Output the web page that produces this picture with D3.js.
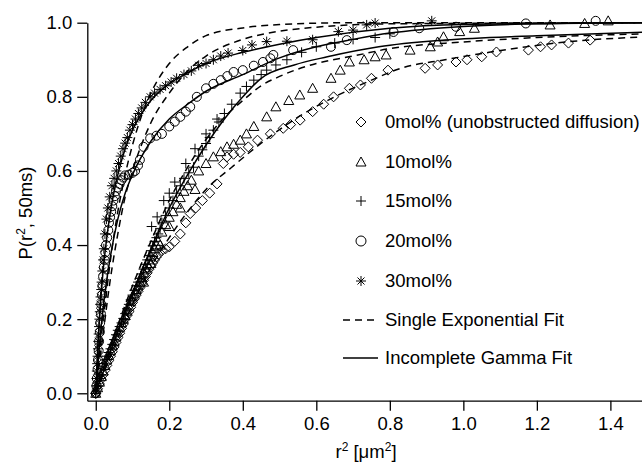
<!DOCTYPE html>
<html>
<head>
<meta charset="utf-8">
<script src="https://cdn.jsdelivr.net/npm/d3@7"></script>
<style>
  body { margin: 0; background: #fff; }
  text { font-family: "Liberation Sans", Arial, sans-serif; fill: #000; }
  .axis path, .axis line { stroke: #000; stroke-width: 1.3px; }
  .axis text { font-size: 18.5px; }
</style>
</head>
<body>
<svg id="chart" width="642" height="466"></svg>
<script>
// data: [r2 (um^2), P(r2, 50ms)]
var mol0 = [[0,0],[0.005,0.012],[0.01,0.025],[0.015,0.038],[0.02,0.05],[0.025,0.062],[0.03,0.075],[0.035,0.088],[0.04,0.1],[0.045,0.112],[0.05,0.125],[0.055,0.137],[0.06,0.15],[0.065,0.162],[0.07,0.175],[0.075,0.187],[0.08,0.2],[0.085,0.21],[0.09,0.22],[0.095,0.232],[0.1,0.245],[0.105,0.255],[0.11,0.265],[0.115,0.275],[0.12,0.285],[0.125,0.295],[0.13,0.305],[0.135,0.315],[0.14,0.325],[0.145,0.335],[0.15,0.345],[0.155,0.352],[0.16,0.36],[0.165,0.368],[0.17,0.375],[0.18,0.385],[0.19,0.39],[0.2,0.395],[0.215,0.41],[0.23,0.43],[0.245,0.46],[0.257,0.485],[0.272,0.5],[0.29,0.52],[0.31,0.54],[0.33,0.565],[0.347,0.62],[0.357,0.638],[0.375,0.645],[0.393,0.65],[0.415,0.665],[0.44,0.683],[0.475,0.7],[0.51,0.715],[0.53,0.725],[0.556,0.737],[0.59,0.76],[0.62,0.78],[0.647,0.8],[0.69,0.823],[0.72,0.832],[0.75,0.85],[0.795,0.872],[0.896,0.877],[0.93,0.886],[0.98,0.894],[1.01,0.9],[1.05,0.908],[1.09,0.921],[1.177,0.926],[1.21,0.935],[1.24,0.94],[1.286,0.945],[1.345,0.953]];
var mol10 = [[0,0],[0.005,0.015],[0.01,0.03],[0.015,0.045],[0.02,0.06],[0.025,0.075],[0.03,0.09],[0.035,0.102],[0.04,0.115],[0.045,0.128],[0.05,0.14],[0.055,0.152],[0.06,0.165],[0.065,0.178],[0.07,0.19],[0.075,0.2],[0.08,0.21],[0.085,0.222],[0.09,0.235],[0.095,0.248],[0.1,0.26],[0.105,0.27],[0.11,0.28],[0.115,0.29],[0.12,0.3],[0.125,0.312],[0.13,0.325],[0.135,0.338],[0.14,0.35],[0.145,0.36],[0.15,0.37],[0.155,0.38],[0.16,0.39],[0.165,0.4],[0.17,0.41],[0.18,0.435],[0.19,0.455],[0.2,0.475],[0.21,0.49],[0.22,0.51],[0.23,0.528],[0.24,0.545],[0.25,0.56],[0.26,0.575],[0.28,0.6],[0.3,0.62],[0.32,0.638],[0.34,0.652],[0.357,0.665],[0.375,0.672],[0.393,0.683],[0.41,0.7],[0.43,0.72],[0.465,0.746],[0.49,0.773],[0.525,0.79],[0.555,0.805],[0.59,0.823],[0.64,0.85],[0.665,0.872],[0.69,0.894],[0.73,0.9],[0.76,0.908],[0.79,0.913],[0.855,0.926],[0.91,0.935],[0.93,0.948],[0.946,0.962],[0.99,0.976],[1.03,0.985],[1.236,0.994],[1.33,0.998],[1.394,1.005],
  [0.13,0.3],[0.15,0.35],[0.175,0.4],[0.2,0.45],[0.23,0.5],[0.27,0.55]];
var mol15 = [[0,0],[0.005,0.02],[0.01,0.04],[0.015,0.05],[0.02,0.08],[0.025,0.09],[0.03,0.1],[0.035,0.11],[0.04,0.12],[0.045,0.132],[0.05,0.145],[0.055,0.158],[0.06,0.17],[0.065,0.18],[0.07,0.19],[0.075,0.202],[0.08,0.215],[0.085,0.228],[0.09,0.24],[0.095,0.252],[0.1,0.265],[0.105,0.278],[0.11,0.29],[0.115,0.3],[0.12,0.31],[0.125,0.322],[0.13,0.335],[0.135,0.348],[0.14,0.36],[0.145,0.372],[0.15,0.385],[0.155,0.398],[0.16,0.41],[0.165,0.42],[0.17,0.43],[0.175,0.445],[0.18,0.46],[0.19,0.48],[0.2,0.5],[0.21,0.52],[0.22,0.54],[0.23,0.56],[0.24,0.58],[0.253,0.595],[0.266,0.61],[0.28,0.64],[0.29,0.657],[0.3,0.674],[0.31,0.69],[0.32,0.71],[0.335,0.732],[0.35,0.755],[0.37,0.78],[0.393,0.81],[0.41,0.828],[0.43,0.845],[0.45,0.86],[0.465,0.872],[0.49,0.886],[0.52,0.9],[0.56,0.92],[0.6,0.935],[0.65,0.945],[0.7,0.955],[0.76,0.96],[0.8,0.97],
  [0.152,0.45],[0.167,0.476],[0.185,0.52],[0.2,0.54],[0.215,0.57],[0.245,0.62],[0.27,0.66],[0.3,0.7],[0.33,0.74]];
var mol20 = [[0,0],[0.002,0.02],[0.003,0.04],[0.005,0.065],[0.006,0.09],[0.008,0.115],[0.009,0.14],[0.011,0.165],[0.012,0.19],[0.014,0.215],[0.015,0.24],[0.017,0.265],[0.018,0.29],[0.02,0.315],[0.022,0.34],[0.024,0.36],[0.026,0.38],[0.028,0.4],[0.031,0.42],[0.034,0.44],[0.036,0.46],[0.039,0.475],[0.042,0.49],[0.045,0.505],[0.048,0.52],[0.052,0.532],[0.055,0.545],[0.06,0.555],[0.065,0.565],[0.07,0.575],[0.075,0.582],[0.08,0.588],[0.09,0.59],[0.1,0.595],[0.107,0.6],[0.115,0.615],[0.12,0.63],[0.13,0.665],[0.148,0.688],[0.165,0.695],[0.18,0.7],[0.2,0.72],[0.215,0.733],[0.23,0.746],[0.245,0.76],[0.257,0.773],[0.275,0.8],[0.3,0.823],[0.32,0.835],[0.34,0.845],[0.358,0.856],[0.375,0.867],[0.4,0.872],[0.43,0.884],[0.455,0.894],[0.475,0.904],[0.483,0.913],[0.537,0.926],[0.64,0.935],[0.683,0.953],[0.81,0.975],[0.88,0.985],[0.98,0.989],[1.17,0.998],[1.36,1.005]];
var mol30 = [[0,0],[0.001,0.02],[0.002,0.04],[0.003,0.06],[0.004,0.08],[0.005,0.1],[0.006,0.12],[0.007,0.14],[0.008,0.16],[0.009,0.18],[0.01,0.2],[0.011,0.22],[0.012,0.24],[0.013,0.26],[0.015,0.28],[0.016,0.3],[0.018,0.33],[0.02,0.36],[0.022,0.39],[0.025,0.43],[0.029,0.47],[0.033,0.5],[0.038,0.53],[0.044,0.56],[0.05,0.58],[0.056,0.6],[0.062,0.62],[0.068,0.64],[0.074,0.66],[0.08,0.675],[0.086,0.69],[0.093,0.71],[0.1,0.725],[0.108,0.74],[0.116,0.755],[0.125,0.77],[0.135,0.785],[0.148,0.8],[0.16,0.81],[0.175,0.82],[0.19,0.83],[0.205,0.84],[0.22,0.85],[0.24,0.86],[0.26,0.87],[0.28,0.885],[0.3,0.89],[0.32,0.9],[0.34,0.91],[0.36,0.918],[0.4,0.925],[0.425,0.94],[0.465,0.949],[0.52,0.95],[0.59,0.954],[0.66,0.976],[0.7,0.98],[0.737,0.994],[0.76,0.999],[0.914,1.005]];

// fitted curves
var expFit30 = [[0,0],[0.01,0.105],[0.02,0.2],[0.03,0.28],[0.04,0.36],[0.06,0.49],[0.08,0.59],[0.1,0.67],[0.125,0.75],[0.15,0.81],[0.2,0.89],[0.25,0.935],[0.3,0.965],[0.4,0.986],[0.5,0.995],[0.7,1.0],[1.5,1.0]];
var expFit20 = [[0,0],[0.02,0.16],[0.04,0.31],[0.06,0.43],[0.08,0.53],[0.1,0.6],[0.15,0.73],[0.2,0.81],[0.25,0.87],[0.3,0.91],[0.4,0.955],[0.5,0.977],[0.6,0.988],[0.8,0.997],[1.5,1.0]];
var expFit10 = [[0,0],[0.05,0.155],[0.1,0.29],[0.15,0.41],[0.2,0.52],[0.25,0.61],[0.3,0.685],[0.35,0.745],[0.4,0.79],[0.45,0.83],[0.5,0.855],[0.6,0.89],[0.7,0.91],[0.8,0.93],[1.0,0.948],[1.2,0.96],[1.5,0.97]];
var expFit0 = [[0,0],[0.05,0.125],[0.1,0.24],[0.15,0.34],[0.2,0.42],[0.25,0.49],[0.3,0.55],[0.37,0.61],[0.45,0.675],[0.55,0.745],[0.65,0.8],[0.75,0.845],[0.83,0.877],[0.95,0.9],[1.07,0.92],[1.3,0.95],[1.5,0.962]];
var gammaFit30 = [[0,0],[0.005,0.12],[0.01,0.2],[0.02,0.33],[0.03,0.42],[0.04,0.49],[0.06,0.59],[0.08,0.66],[0.1,0.71],[0.125,0.755],[0.15,0.79],[0.2,0.835],[0.25,0.865],[0.3,0.89],[0.4,0.92],[0.5,0.942],[0.6,0.96],[0.8,0.985],[1.0,0.995],[1.5,1.0]];
var gammaFit20 = [[0,0],[0.01,0.13],[0.02,0.23],[0.04,0.37],[0.06,0.47],[0.08,0.54],[0.1,0.59],[0.15,0.68],[0.2,0.74],[0.25,0.78],[0.3,0.815],[0.4,0.86],[0.5,0.905],[0.6,0.935],[0.7,0.955],[0.8,0.972],[1.0,0.99],[1.2,0.997],[1.5,1.0]];
var gammaFit15 = [[0,0],[0.05,0.14],[0.1,0.27],[0.15,0.39],[0.2,0.5],[0.25,0.59],[0.3,0.67],[0.35,0.74],[0.4,0.8],[0.45,0.85],[0.54,0.886],[0.63,0.908],[0.77,0.935],[0.95,0.953],[1.2,0.965],[1.5,0.975]];

var xTicks = [0, 0.2, 0.4, 0.6, 0.8, 1.0, 1.2, 1.4];
var yTicks = [0, 0.2, 0.4, 0.6, 0.8, 1.0];
var legendNames = ["0mol% (unobstructed diffusion)", "10mol%", "15mol%", "20mol%", "30mol%"];
var fitNames = ["Single Exponential Fit", "Incomplete Gamma Fit"];

var svg = d3.select("#chart");

// scales (plot runs off the right edge like the original)
var x = d3.scaleLinear().domain([-0.023, 1.486]).range([87.3, 642]);
var y = d3.scaleLinear().domain([-0.02, 1.0]).range([400.7, 22.7]);

// axes
svg.append("g")
    .attr("class", "axis")
    .attr("transform", "translate(0,400.7)")
    .call(d3.axisBottom(x).tickValues(xTicks).tickFormat(d3.format(".1f"))
        .tickSize(10).tickSizeOuter(0).tickPadding(6));
svg.append("g")
    .attr("class", "axis")
    .attr("transform", "translate(87.3,0)")
    .call(d3.axisLeft(y).tickValues(yTicks).tickFormat(d3.format(".1f"))
        .tickSize(10).tickSizeOuter(0).tickPadding(5));

// axis titles
var xt = svg.append("text")
    .attr("x", 366).attr("y", 458)
    .attr("text-anchor", "middle")
    .style("font-size", "18.5px");
xt.append("tspan").text("r");
xt.append("tspan").attr("dy", -7).style("font-size", "12px").text("2");
xt.append("tspan").attr("dy", 7).text(" [\u03bcm");
xt.append("tspan").attr("dy", -7).style("font-size", "12px").text("2");
xt.append("tspan").attr("dy", 7).text("]");

var yt = svg.append("text")
    .attr("transform", "translate(32,213) rotate(-90)")
    .attr("text-anchor", "middle")
    .style("font-size", "18.5px");
yt.append("tspan").text("P(r");
yt.append("tspan").attr("dy", -7).style("font-size", "12px").text("2");
yt.append("tspan").attr("dy", 7).text(", 50ms)");

// marker shapes
var shapes = {
  diamond: "M0,-5L5,0L0,5L-5,0Z",
  triangle: "M0,-5L5,4L-5,4Z",
  plus: "M-5,0H5M0,-5V5",
  star: "M-5,0H5M0,-5V5M-3.5,-3.5L3.5,3.5M-3.5,3.5L3.5,-3.5"
};

function drawPoints(data, shape) {
  var g = svg.append("g");
  data.forEach(function(d) {
    if (shape == "circle") {
      g.append("circle")
        .attr("cx", x(d[0])).attr("cy", y(d[1])).attr("r", 4.5)
        .attr("fill", "none").attr("stroke", "#000").attr("stroke-width", 1);
    } else {
      g.append("path")
        .attr("transform", "translate(" + x(d[0]) + "," + y(d[1]) + ")")
        .attr("d", shapes[shape])
        .attr("fill", "none").attr("stroke", "#000").attr("stroke-width", 1);
    }
  });
}

drawPoints(mol0, "diamond");
drawPoints(mol10, "triangle");
drawPoints(mol15, "plus");
drawPoints(mol20, "circle");
drawPoints(mol30, "star");

// fit lines
var line = d3.line()
    .x(function(d) { return x(d[0]); })
    .y(function(d) { return y(d[1]); })
    .curve(d3.curveMonotoneX);

[expFit30, expFit20, expFit10, expFit0].forEach(function(f) {
  svg.append("path").attr("d", line(f))
    .attr("fill", "none").attr("stroke", "#000")
    .attr("stroke-width", 1.5).attr("stroke-dasharray", "7,5");
});
[gammaFit30, gammaFit20, gammaFit15].forEach(function(f) {
  svg.append("path").attr("d", line(f))
    .attr("fill", "none").attr("stroke", "#000").attr("stroke-width", 1.5);
});

// legend
var legY = [122, 162, 201, 241, 281];
var legShapes = ["diamond", "triangle", "plus", "circle", "star"];
legendNames.forEach(function(name, i) {
  if (legShapes[i] == "circle") {
    svg.append("circle").attr("cx", 361).attr("cy", legY[i]).attr("r", 5)
      .attr("fill", "none").attr("stroke", "#000");
  } else {
    svg.append("path").attr("transform", "translate(361," + legY[i] + ")")
      .attr("d", shapes[legShapes[i]])
      .attr("fill", "none").attr("stroke", "#000");
  }
  svg.append("text").attr("x", 385).attr("y", legY[i]).attr("dy", "0.35em")
    .style("font-size", "18.5px").text(name);
});
var fitY = [320, 358];
fitNames.forEach(function(name, i) {
  svg.append("line").attr("x1", 343).attr("x2", 378)
    .attr("y1", fitY[i]).attr("y2", fitY[i])
    .attr("stroke", "#000").attr("stroke-width", 1.5)
    .attr("stroke-dasharray", i == 0 ? "7,5" : null);
  svg.append("text").attr("x", 385).attr("y", fitY[i]).attr("dy", "0.35em")
    .style("font-size", "18.5px").text(name);
});
</script>
</body>
</html>
